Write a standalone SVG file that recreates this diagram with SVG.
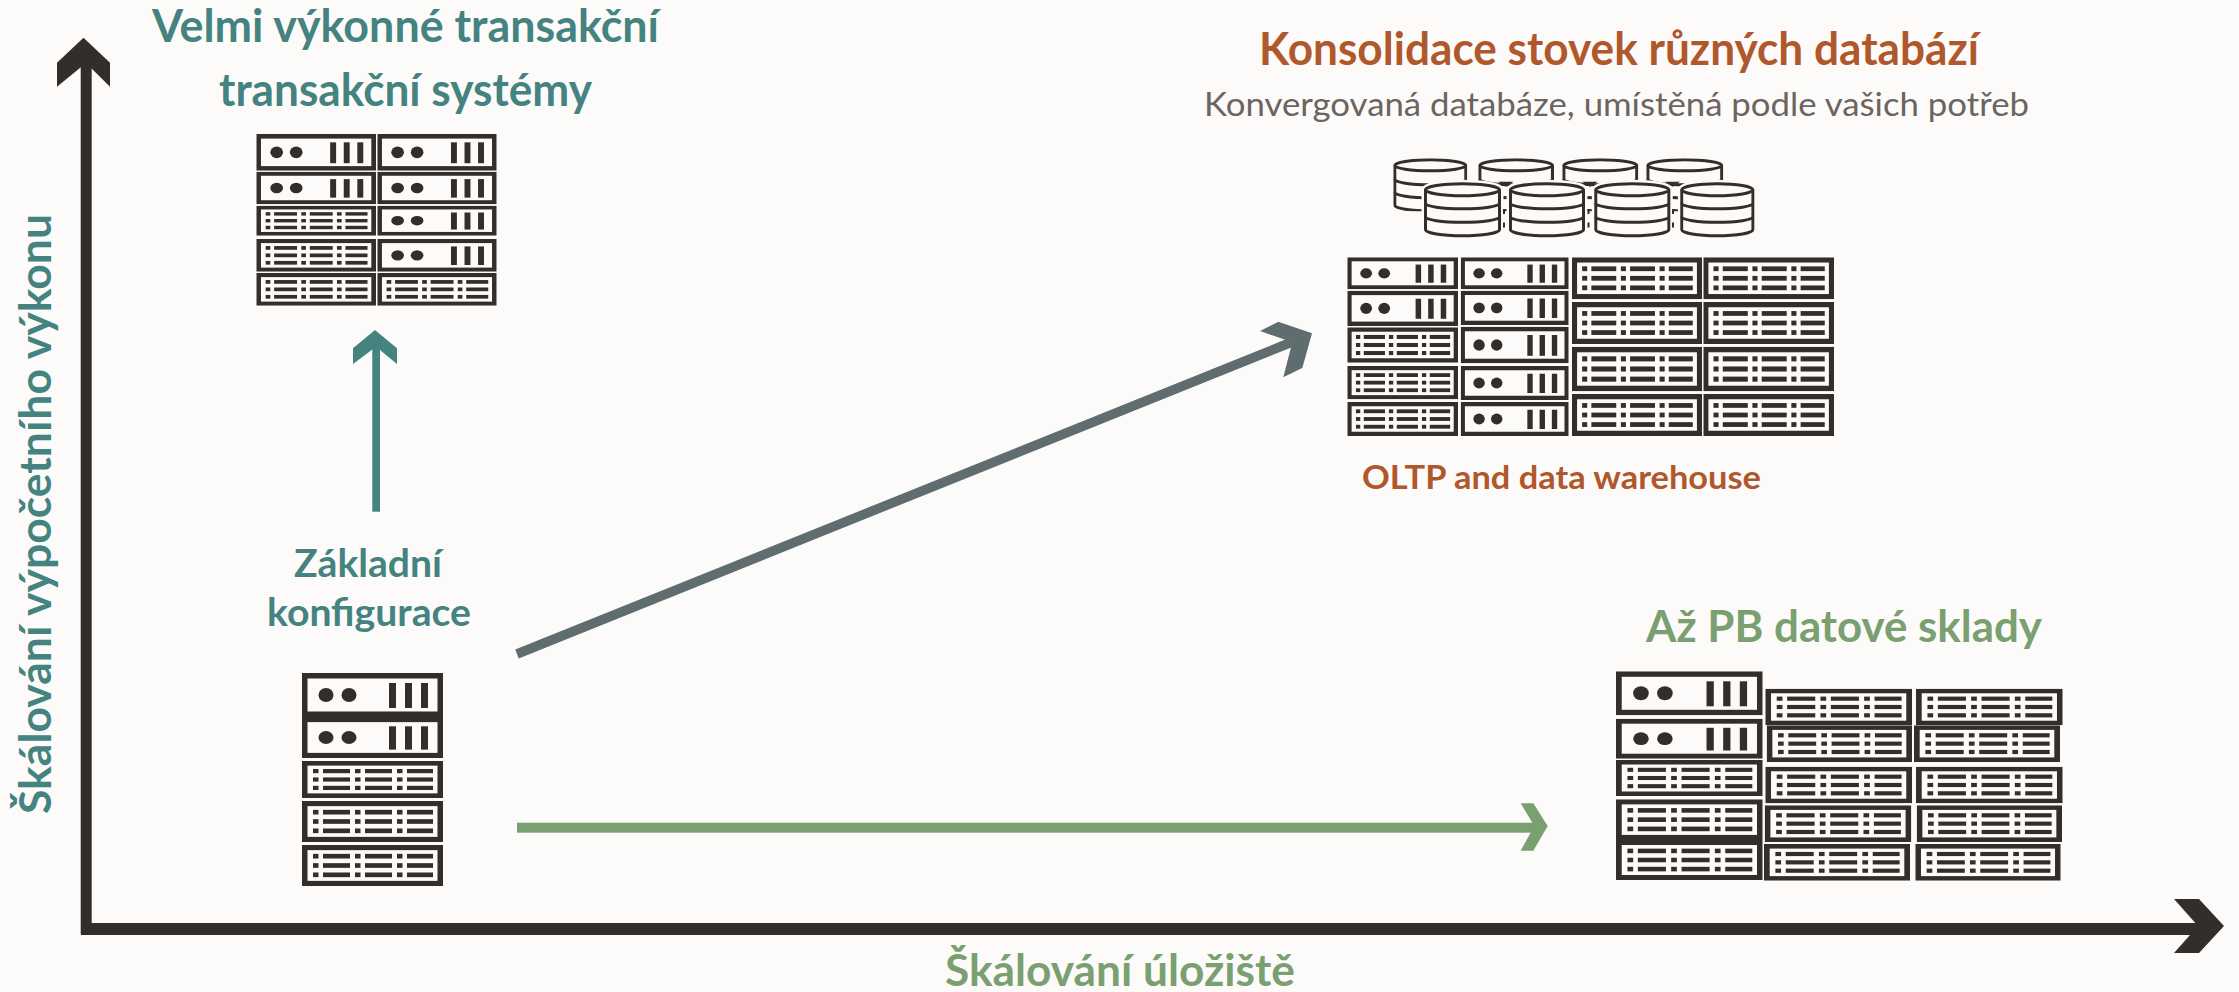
<svg xmlns="http://www.w3.org/2000/svg" width="2239" height="992" viewBox="0 0 2239 992">
<style>
.t{font-family:"Lato","Open Sans","Liberation Sans",sans-serif;font-weight:700}
.r{font-family:"Lato","Open Sans","Liberation Sans",sans-serif;font-weight:400}
.teal{fill:#44837f}.orange{fill:#b0582c}.green{fill:#7a9f70}.grey{fill:#6b6460}
.d{fill:#322e2b}.w{fill:#fcfbf9}
.cyl{fill:#fcfbf9;stroke:#322e2b;stroke-width:3}
.band{fill:none;stroke:#322e2b;stroke-width:3}
.halo{fill:#fcfbf9;stroke:#fcfbf9;stroke-width:8}
</style>
<defs>
<symbol id="srvA" viewBox="0 0 141 44" preserveAspectRatio="none">
<rect class="d" width="141" height="44"/><rect class="w" x="5.5" y="5.5" width="130" height="33"/>
<ellipse class="d" cx="24" cy="22" rx="7.5" ry="7"/><ellipse class="d" cx="47" cy="22" rx="7.5" ry="7"/>
<rect class="d" x="87" y="10" width="7" height="25"/><rect class="d" x="103" y="10" width="7" height="25"/><rect class="d" x="119" y="10" width="7" height="25"/>
</symbol>
<symbol id="srvB" viewBox="0 0 141 44" preserveAspectRatio="none">
<rect class="d" width="141" height="44"/><rect class="w" x="5.5" y="5.5" width="130" height="33"/>
<g id="srvRow">
<rect class="d" x="11" y="9.5" width="5.5" height="5"/><rect class="d" x="21" y="9.5" width="27" height="5"/>
<rect class="d" x="53" y="9.5" width="5.5" height="5"/><rect class="d" x="63" y="9.5" width="27" height="5"/>
<rect class="d" x="95" y="9.5" width="5.5" height="5"/><rect class="d" x="105" y="9.5" width="26" height="5"/>
</g>
<use href="#srvRow" y="10"/><use href="#srvRow" y="20"/>
</symbol>
<symbol id="dbBack" viewBox="0 0 74 53" preserveAspectRatio="none">
<path class="cyl" d="M1.5 7 A35.5 5.5 0 0 1 72.5 7 V47 A35.5 5.5 0 0 1 1.5 47 Z"/>
<path class="band" d="M1.5 7 A35.5 5.5 0 0 0 72.5 7 M1.5 21 A35.5 5.5 0 0 0 72.5 21 M1.5 34 A35.5 5.5 0 0 0 72.5 34"/>
</symbol>
<symbol id="dbFront" viewBox="0 0 77 55" preserveAspectRatio="none" style="overflow:visible">
<path class="halo" d="M1.5 7.5 A37 6 0 0 1 75.5 7.5 V47.5 A37 6 0 0 1 1.5 47.5 Z"/>
<path class="cyl" d="M1.5 7.5 A37 6 0 0 1 75.5 7.5 V47.5 A37 6 0 0 1 1.5 47.5 Z"/>
<path class="band" d="M1.5 7.5 A37 6 0 0 0 75.5 7.5 M1.5 21 A37 5.5 0 0 0 75.5 21 M1.5 34.5 A37 5.5 0 0 0 75.5 34.5"/>
</symbol>
</defs>
<rect width="2239" height="992" fill="#fcfbf9"/>
<g id="connectors">
<g id="axes" class="d">
<rect x="80.7" y="60" width="11" height="874"/>
<polygon points="83.5,37.7 110,62.7 110,86.7 86,63 57,86.7 57,62.7"/>
<rect x="81" y="923" width="2120" height="12"/>
<polygon points="2174,899 2199,899 2224,926 2199,953 2174,953 2198,926"/>
</g>
<g id="arrow-up" class="teal">
<rect x="372.3" y="345" width="7.7" height="166.7"/>
<polygon points="375,330 397,348.3 397,364 376,346.7 353,364 353,348.3"/>
</g>
<g id="arrow-diag">
<line x1="517" y1="654" x2="1292" y2="342" stroke="#5f6d6e" stroke-width="9.5"/>
<polygon fill="#5f6d6e" points="1278.3,321.7 1312,333.3 1302.3,368 1283.3,377.3 1292.3,342.3 1260,331"/>
</g>
<g id="arrow-right" class="green">
<rect x="517" y="822.7" width="1018" height="10"/>
<polygon points="1520.7,803.3 1533.3,803.3 1547.7,826 1533.3,850.7 1520.7,850.7 1534.3,826"/>
</g>
</g>
<g id="base-config">
<use href="#srvA" x="302" y="673" width="141" height="44"/>
<use href="#srvA" x="302" y="717" width="141" height="41"/>
<use href="#srvB" x="302" y="761" width="141" height="37"/>
<use href="#srvB" x="302" y="801" width="141" height="41"/>
<use href="#srvB" x="302" y="845" width="141" height="41"/>
<text class="t teal" x="294" y="577" font-size="39" textLength="148" lengthAdjust="spacingAndGlyphs">Základní</text>
<text class="t teal" x="267" y="626" font-size="39" textLength="204" lengthAdjust="spacingAndGlyphs">konfigurace</text>
</g>
<g id="high-performance">
<use href="#srvA" x="256.3" y="134" width="119.7" height="36.7"/>
<use href="#srvA" x="256.3" y="171.7" width="119.7" height="32.6"/>
<use href="#srvB" x="256.3" y="205.7" width="119.7" height="30"/>
<use href="#srvB" x="256.3" y="239" width="119.7" height="32.7"/>
<use href="#srvB" x="256.3" y="273" width="119.7" height="32.7"/>
<use href="#srvA" x="377.3" y="134" width="119.4" height="36.7"/>
<use href="#srvA" x="377.3" y="171.7" width="119.4" height="32.6"/>
<use href="#srvA" x="377.3" y="205.7" width="119.4" height="30"/>
<use href="#srvA" x="377.3" y="239" width="119.4" height="32.7"/>
<use href="#srvB" x="377.3" y="273" width="119.4" height="32.7"/>
<text class="t teal" x="152" y="42" font-size="46" textLength="507" lengthAdjust="spacingAndGlyphs">Velmi výkonné transakční</text>
<text class="t teal" x="219" y="106" font-size="46" textLength="373" lengthAdjust="spacingAndGlyphs">transakční systémy</text>
</g>
<g id="consolidation">
<text class="t orange" x="1259" y="65" font-size="46" textLength="720" lengthAdjust="spacingAndGlyphs">Konsolidace stovek různých databází</text>
<text class="r grey" x="1204" y="116" font-size="33" textLength="825" lengthAdjust="spacingAndGlyphs">Konvergovaná databáze, umístěná podle vašich potřeb</text>
<g id="databases">
<use href="#dbBack" x="1393.3" y="158.3" width="74" height="53"/>
<use href="#dbBack" x="1478.3" y="158.3" width="75.7" height="53"/>
<use href="#dbBack" x="1562.3" y="158.3" width="76" height="53"/>
<use href="#dbBack" x="1646.3" y="158.3" width="77" height="53"/>
<polygon class="d" points="1498.3,181.7 1513.3,181.7 1506,186.7"/>
<polygon class="d" points="1582.3,181.7 1597.7,181.7 1590,186.7"/>
<polygon class="d" points="1665,181.7 1680,181.7 1672.5,186.7"/>
<use href="#dbFront" x="1424" y="182.3" width="77" height="55"/>
<use href="#dbFront" x="1509" y="182.3" width="76" height="55"/>
<use href="#dbFront" x="1594.3" y="182.3" width="76" height="55"/>
<use href="#dbFront" x="1680.3" y="182.3" width="74" height="55"/>
<g class="d">
<rect x="1503" y="209" width="2" height="5"/><rect x="1503" y="222.5" width="2" height="5"/>
<rect x="1587.5" y="209" width="2" height="5"/><rect x="1587.5" y="222.5" width="2" height="5"/>
<rect x="1672" y="209" width="2" height="5"/><rect x="1672" y="222.5" width="2" height="5"/>
</g>
</g>
<use href="#srvA" x="1347.3" y="257.3" width="110.7" height="32"/>
<use href="#srvA" x="1347.3" y="290.7" width="110.7" height="35.3"/>
<use href="#srvB" x="1347.3" y="327.3" width="110.7" height="35.4"/>
<use href="#srvB" x="1347.3" y="366" width="110.7" height="33.3"/>
<use href="#srvB" x="1347.3" y="402" width="110.7" height="34"/>
<use href="#srvA" x="1460.7" y="257.3" width="108" height="32"/>
<use href="#srvA" x="1460.7" y="290.7" width="108" height="34.3"/>
<use href="#srvA" x="1460.7" y="326.7" width="108" height="36.6"/>
<use href="#srvA" x="1460.7" y="366" width="108" height="34"/>
<use href="#srvA" x="1460.7" y="402" width="108" height="34"/>
<use href="#srvB" x="1572" y="257.3" width="130" height="42"/>
<use href="#srvB" x="1572" y="302" width="130" height="42"/>
<use href="#srvB" x="1572" y="346.7" width="130" height="44.6"/>
<use href="#srvB" x="1572" y="394" width="130" height="42"/>
<use href="#srvB" x="1703.3" y="257.3" width="130.7" height="42"/>
<use href="#srvB" x="1703.3" y="302" width="130.7" height="42"/>
<use href="#srvB" x="1703.3" y="346.7" width="130.7" height="44.6"/>
<use href="#srvB" x="1703.3" y="394" width="130.7" height="42"/>
<text class="t orange" x="1362" y="489" font-size="32" textLength="399" lengthAdjust="spacingAndGlyphs">OLTP and data warehouse</text>
</g>
<g id="data-warehouse">
<text class="t green" x="1646" y="642" font-size="44" textLength="396" lengthAdjust="spacingAndGlyphs">Až PB datové sklady</text>
<use href="#srvA" x="1616" y="671.3" width="146.7" height="44"/>
<use href="#srvA" x="1616" y="718.7" width="146.7" height="40"/>
<use href="#srvB" x="1616" y="760" width="146.7" height="36"/>
<use href="#srvB" x="1616" y="799.3" width="146.7" height="40.7"/>
<use href="#srvB" x="1616" y="840" width="146.7" height="40"/>
<use href="#srvB" x="1765.3" y="688.7" width="146.7" height="36.6"/>
<use href="#srvB" x="1766.7" y="725.3" width="145.3" height="36.7"/>
<use href="#srvB" x="1765.3" y="766.7" width="146.7" height="36.6"/>
<use href="#srvB" x="1764.7" y="805.3" width="146.6" height="36.7"/>
<use href="#srvB" x="1764" y="844" width="146" height="36.7"/>
<use href="#srvB" x="1916" y="688.7" width="146.7" height="36.6"/>
<use href="#srvB" x="1914" y="725.3" width="146" height="36.7"/>
<use href="#srvB" x="1916" y="766.7" width="146.7" height="36.6"/>
<use href="#srvB" x="1916.7" y="805.3" width="145.3" height="36.7"/>
<use href="#srvB" x="1915.3" y="844" width="145.4" height="36.7"/>
</g>
<g id="axis-labels">
<text class="t teal" transform="translate(51 814) rotate(-90)" font-size="44" textLength="600" lengthAdjust="spacingAndGlyphs">Škálování výpočetního výkonu</text>
<text class="t green" x="945" y="986" font-size="44" textLength="350" lengthAdjust="spacingAndGlyphs">Škálování úložiště</text>
</g>
</svg>
